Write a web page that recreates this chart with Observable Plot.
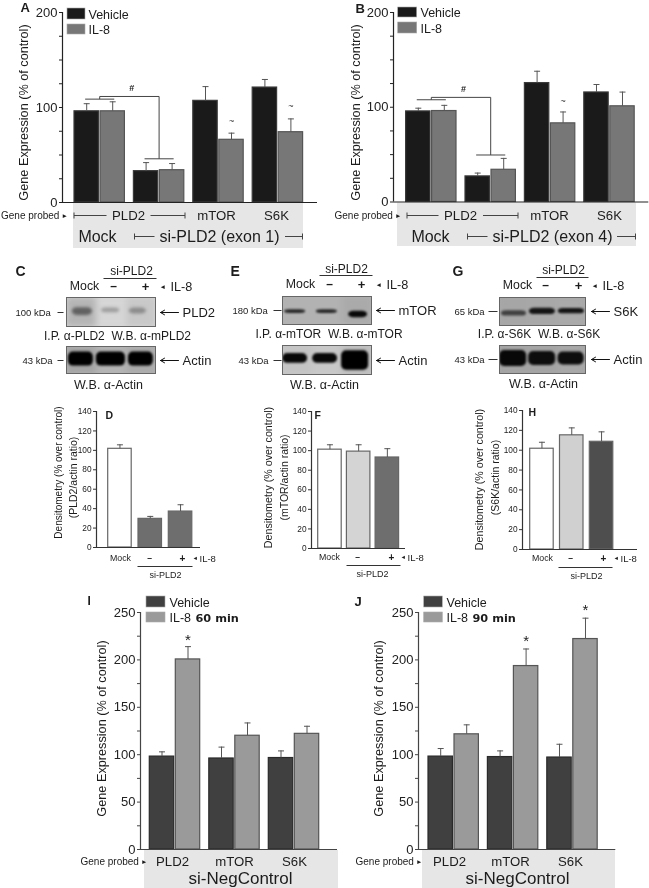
<!DOCTYPE html>
<html><head><meta charset="utf-8">
<script src="https://cdn.jsdelivr.net/npm/d3@7"></script>
<script src="https://cdn.jsdelivr.net/npm/@observablehq/plot@0.6"></script>
<style>
html,body{margin:0;padding:0;background:#fff}
#fig{position:relative;width:649px;height:888px;overflow:hidden;background:#fff;filter:blur(0.35px)}
#fig svg{position:absolute;background:transparent;max-width:none}
</style></head><body><div id="fig"></div>
<script>
const FONT = "Liberation Sans, Arial, sans-serif";

// ---------- values ----------
const aVehicle = [96, 33, 107, 121];
const aVehicleTop = [104, 42, 122, 129.5];
const aIL8 = [96, 34, 66, 74];
const aIL8Top = [106, 41, 73, 88];

const bVehicle = [95.6, 27, 125.5, 115.6];
const bVehicleTop = [99, 30.5, 138, 124];
const bIL8 = [96, 34, 83, 101];
const bIL8Top = [102, 46, 95, 116];

const dValues = [101.6, 29.5, 37];
const dTops = [105.7, 32, 44];
const fValues = [101, 99, 93];
const fTops = [106, 106, 102];
const hValues = [101.5, 115, 108.5];
const hTops = [108, 122.5, 118.5];

const iVehicle = [98, 96, 96.5];
const iVehicleTop = [103, 108, 104];
const iIL8 = [200.5, 120, 122];
const iIL8Top = [214, 133.5, 130];

const jVehicle = [98, 97.5, 97];
const jVehicleTop = [106.5, 104, 111];
const jIL8 = [121.5, 193.5, 222];
const jIL8Top = [131.5, 211.5, 244];

// blot bands per lane: darkness (1 = black), centre and width in lanes, mid-height and thickness on a 0-1 scale
const cBlot = {dark: [0.62, 0.38, 0.45], at: [0.53, 1.47, 2.38], wide: [0.67, 0.6, 0.57], mid: [0.47, 0.43, 0.45], thick: [0.26, 0.16, 0.2], lanes: ["#b4b4b4", "#d6d6d6", "#c8c8c8"]};
const cActin = {dark: [1, 1, 1], at: [0.48, 1.48, 2.48], wide: [0.83, 0.97, 0.83], mid: [0.45, 0.45, 0.45], thick: [0.5, 0.5, 0.5], lanes: ["#a4a4a4", "#b4b4b4", "#ababab"]};
const eBlot = {dark: [0.85, 0.85, 0.97], at: [0.42, 1.48, 2.52], wide: [0.7, 0.7, 0.63], mid: [0.52, 0.52, 0.62], thick: [0.13, 0.13, 0.22], lanes: ["#b2b2b2", "#b2b2b2", "#aaaaaa"]};
const eActin = {dark: [0.97, 0.97, 1], at: [0.42, 1.42, 2.42], wide: [0.83, 0.83, 0.9], mid: [0.43, 0.43, 0.5], thick: [0.33, 0.33, 0.65], lanes: ["#c4c4c4", "#c8c8c8", "#bbbbbb"]};
const gBlot = {dark: [0.75, 0.92, 0.92], at: [0.5, 1.48, 2.48], wide: [0.86, 0.9, 0.9], mid: [0.55, 0.48, 0.47], thick: [0.18, 0.22, 0.18], lanes: ["#a6a6a6", "#a8a8a8", "#aaaaaa"]};
const gActin = {dark: [0.97, 0.95, 0.95], at: [0.47, 1.47, 2.47], wide: [0.93, 0.93, 0.9], mid: [0.45, 0.45, 0.45], thick: [0.55, 0.48, 0.45], lanes: ["#a4a4a4", "#a4a4a4", "#a8a8a8"]};

// ---------- helpers ----------
const fig = document.getElementById("fig");
function place(svg, left, top) { svg.style.left = left + "px"; svg.style.top = top + "px"; fig.appendChild(svg); }

function pair(first, second, firstTop, secondTop, n) {
  return d3.range(n).flatMap(g => [
    {g, s: 0, value: first[g], top: firstTop[g]},
    {g, s: 1, value: second[g], top: secondTop[g]}
  ]);
}
function single(values, tops) {
  return values.map((value, g) => ({g, s: 0, value, top: tops[g]}));
}

// page = pixel geometry of the axes; first/period/step/barW place bars along the x scale
function barPanel({page, yMax, tickStep, labelStep, first, period, step, barW, rows, fills, strokes, axisColor,
                   tickFont, tickSize, capPx, extras}) {
  const [xa, yTop, xEnd, yBot] = page;
  const pad = {l: 42, r: 2, t: 12, b: 3};
  const toG = px => (px - first) / period;
  const wG = barW / period, stepG = step / period, capG = capPx / period;
  const cx = d => d.g + d.s * stepG + wG / 2;
  const marks = [
    Plot.rectY(rows, {
      x1: d => d.g + d.s * stepG, x2: d => d.g + d.s * stepG + wG,
      y1: 0, y2: "value", fill: d => fills[d.s === 1 ? 1 : 0][d.g] , stroke: d => strokes[d.s === 1 ? 1 : 0][d.g], strokeWidth: 1.2
    }),
    Plot.ruleX(rows, {x: cx, y1: "value", y2: "top", stroke: "#555", strokeWidth: 1}),
    Plot.link(rows, {x1: d => cx(d) - capG, x2: d => cx(d) + capG, y1: "top", y2: "top", stroke: "#555", strokeWidth: 1}),
    Plot.ruleX([toG(xa)], {y1: 0, y2: yMax, stroke: axisColor, strokeWidth: 1.2}),
    Plot.ruleY([0], {x1: toG(xa), x2: toG(xEnd), stroke: axisColor, strokeWidth: 1.2}),
    Plot.axisY(d3.range(0, yMax + 1, tickStep), {
      anchor: "left", tickSize, tickPadding: 2, fontSize: tickFont, color: "#222", stroke: axisColor, label: null,
      tickFormat: d => d % labelStep === 0 ? String(d) : ""
    })
  ];
  const svg = Plot.plot({
    width: xEnd - xa + pad.l + pad.r, height: yBot - yTop + pad.t + pad.b,
    marginLeft: pad.l, marginRight: pad.r, marginTop: pad.t, marginBottom: pad.b,
    x: {type: "linear", domain: [toG(xa), toG(xEnd)], axis: null},
    y: {type: "linear", domain: [0, yMax], axis: null},
    color: {type: "identity"},
    style: {fontFamily: FONT, background: "transparent", overflow: "visible"},
    marks: marks.concat(extras ? extras({wG, stepG, capG, toG}) : [])
  });
  place(svg, xa - pad.l, yTop - pad.t);
}

function bracket(wG, stepG, yHigh, yShort, yLow, halfG, color, sign, signY) {
  const c0 = (stepG + wG) / 2, c1 = 1 + c0;
  const segs = [
    {a: c0, b: c1, y1: yHigh, y2: yHigh},
    {a: c1, b: c1, y1: yHigh, y2: yLow},
    {a: c0, b: c0, y1: yHigh, y2: yShort},
    {a: c0 - halfG, b: c0 + halfG, y1: yShort, y2: yShort},
    {a: c1 - halfG, b: c1 + halfG, y1: yLow, y2: yLow}
  ];
  return [
    Plot.link(segs, {x1: "a", x2: "b", y1: "y1", y2: "y2", stroke: color, strokeWidth: 1}),
    Plot.text([sign], {x: (c0 + c1) / 2 + 0.04, y: signY, text: d => d, fontSize: 9, fill: "#222", fontWeight: "bold"})
  ];
}

function blot(box, spec, edge, blur) {
  const [x0, y0, x1, y1] = box;
  const rows = spec.dark.map((d, i) => ({i, d, c: spec.at[i], w: spec.wide[i], m: spec.mid[i], t: spec.thick[i]}));
  const grey = v => { const c = Math.round(255 * (1 - v)); return `rgb(${c},${c},${c})`; };
  const svg = Plot.plot({
    width: x1 - x0, height: y1 - y0, margin: 0,
    x: {type: "linear", domain: [0, 3], axis: null},
    y: {type: "linear", domain: [1, 0], axis: null},
    color: {type: "identity"},
    style: {background: "transparent"},
    marks: [
      Plot.rect([spec.lanes[1]], {x1: 0, x2: 3, y1: 0, y2: 1, fill: d => d}),
      Plot.rect(spec.lanes, {x1: (d, i) => i, x2: (d, i) => i + 1, y1: 0, y2: 1, fill: d => d, imageFilter: "blur(3px)", clip: "frame"}),
      Plot.rect(rows, {
        x1: d => d.c - d.w / 2, x2: d => d.c + d.w / 2,
        y1: d => d.m - d.t / 2, y2: d => d.m + d.t / 2,
        fill: d => grey(d.d), rx: 5, imageFilter: `blur(${blur}px)`, clip: "frame"
      }),
      Plot.rect([0], {x1: 0, x2: 3, y1: 0, y2: 1, fill: "none", stroke: edge, strokeWidth: 2})
    ]
  });
  place(svg, x0, y0);
}

// ---------- backdrop: grey strips under the charts ----------
const strips = [
  {x1: 73, x2: 303, y1: 203, y2: 248},
  {x1: 397, x2: 636, y1: 202.5, y2: 246},
  {x1: 144, x2: 338, y1: 850, y2: 888},
  {x1: 422, x2: 615, y1: 850, y2: 888}
];
const pageScale = {
  width: 649, height: 888, margin: 0,
  x: {type: "linear", domain: [0, 649], range: [0, 649], axis: null},
  y: {type: "linear", domain: [0, 888], range: [0, 888], axis: null},
  style: {background: "transparent", fontFamily: FONT}
};
place(Plot.plot({...pageScale, marks: [Plot.rect(strips, {x1: "x1", x2: "x2", y1: "y1", y2: "y2", fill: "#e6e6e6"})]}), 0, 0);

// ---------- bar charts ----------
const k = "#1a1a1a", g = "#777777", kEdge = "#3a3a3a", gEdge = "#555555";
const same = (c, n) => Array(n).fill(c);

barPanel({page: [62, 12, 317, 202], yMax: 200, tickStep: 25, labelStep: 100, first: 74, period: 59.4, step: 26, barW: 24.4,
  rows: pair(aVehicle, aIL8, aVehicleTop, aIL8Top, 4), fills: [same(k, 4), same(g, 4)], strokes: [same(kEdge, 4), same(gEdge, 4)],
  axisColor: "#222", tickFont: 13, tickSize: 3, capPx: 3,
  extras: ({wG, stepG}) => [
    ...bracket(wG, stepG, 111.6, 108.8, 46, 0.245, "#444", "#", 120.7),
    Plot.text([{v: 2, y: 85.6}, {v: 3, y: 101.8}], {x: d => d.v + stepG + wG / 2, y: "y", text: () => "~", fontSize: 9, fill: "#333"})
  ]});

barPanel({page: [392.7, 12, 648, 201.5], yMax: 200, tickStep: 25, labelStep: 100, first: 405.3, period: 59.4, step: 26, barW: 24.4,
  rows: pair(bVehicle, bIL8, bVehicleTop, bIL8Top, 4), fills: [same(k, 4), same(g, 4)], strokes: [same(kEdge, 4), same(gEdge, 4)],
  axisColor: "#222", tickFont: 13, tickSize: 3, capPx: 3,
  extras: ({wG, stepG}) => [
    ...bracket(wG, stepG, 110.4, 107.9, 49.6, 0.245, "#444", "#", 119),
    Plot.text([{v: 2, y: 106}], {x: d => d.v + stepG + wG / 2, y: "y", text: () => "~", fontSize: 9, fill: "#333"})
  ]});

const smallPanel = (page, first, period, vals, tops, fillSet) => barPanel({
  page, yMax: 140, tickStep: 20, labelStep: 20, first, period, step: 0, barW: 23.5,
  rows: single(vals, tops), fills: [fillSet, fillSet], strokes: [same("#666", 3), same("#666", 3)],
  axisColor: "#333", tickFont: 8.3, tickSize: 3, capPx: 3});

smallPanel([96, 411, 200, 547], 107.7, 30.3, dValues, dTops, ["#ffffff", "#6e6e6e", "#6e6e6e"]);
smallPanel([311, 411, 405, 548], 317.7, 28.7, fValues, fTops, ["#ffffff", "#d4d4d4", "#6e6e6e"]);
smallPanel([522, 410, 637, 549], 529.7, 29.8, hValues, hTops, ["#ffffff", "#d0d0d0", "#4e4e4e"]);

const dk = "#404040", lt = "#9a9a9a";
barPanel({page: [140, 612, 337, 849], yMax: 250, tickStep: 25, labelStep: 50, first: 149.3, period: 59.5, step: 26, barW: 24.4,
  rows: pair(iVehicle, iIL8, iVehicleTop, iIL8Top, 3), fills: [same(dk, 3), same(lt, 3)], strokes: [same("#2a2a2a", 3), same("#555", 3)],
  axisColor: "#444", tickFont: 13, tickSize: 3, capPx: 3,
  extras: ({wG, stepG}) => [Plot.text([{v: 0, y: 221}], {x: d => d.v + stepG + wG / 2, y: "y", text: () => "*", fontSize: 15, fill: "#222"})]});

barPanel({page: [417.7, 612, 615, 849], yMax: 250, tickStep: 25, labelStep: 50, first: 427.7, period: 59.4, step: 26, barW: 24.4,
  rows: pair(jVehicle, jIL8, jVehicleTop, jIL8Top, 3), fills: [same(dk, 3), same(lt, 3)], strokes: [same("#2a2a2a", 3), same("#555", 3)],
  axisColor: "#444", tickFont: 13, tickSize: 3, capPx: 3,
  extras: ({wG, stepG}) => [Plot.text([{v: 1, y: 220}, {v: 2, y: 252}], {x: d => d.v + stepG + wG / 2, y: "y", text: () => "*", fontSize: 15, fill: "#222"})]});

// ---------- western blots ----------
blot([66, 297, 156, 327], cBlot, "#666", 1.6);
blot([66, 346, 156, 374], cActin, "#666", 1.3);
blot([282, 296, 372, 325], eBlot, "#666", 0.9);
blot([282, 345, 372, 375], eActin, "#666", 1.3);
blot([499, 297, 586, 326], gBlot, "#666", 1);
blot([499, 345, 586, 374], gActin, "#666", 1.3);

// ---------- labels, legends and arrows on the page ----------
const T = [];
const t = (x, y, text, size, o = {}) => T.push({x, y, text, size, anchor: o.a || "start", weight: o.w || "normal", rotate: o.r || 0, family: o.f || FONT, fill: o.c || "#1c1c1c"});
const L = [];   // thin lines
const line = (x1, y1, x2, y2, c = "#444", w = 1) => L.push({x1, y1, x2, y2, c, w});
const S = [];   // legend swatches
const A = [];   // arrows
const arrow = (x1, x2, y) => A.push({x1, x2, y});

// panel letters
[["A",20,7,13],["B",355,8,13],["C",15,271,14],["E",230,271,14],["G",452,271,14],["D",105,415,10.5],["F",314,415,10.5],["H",528,412,10.5],["I",87,601,12],["J",354,601,13]]
  .forEach(([s,x,y,z]) => t(x, y, s, z, {w: "bold"}));

// y titles
const yt = "Gene Expression (% of control)";
t(23, 112, yt, 12.7, {a: "middle", r: -90});
t(355, 112, yt, 12.7, {a: "middle", r: -90});
t(101, 728, yt, 12.7, {a: "middle", r: -90});
t(378, 728, yt, 12.7, {a: "middle", r: -90});
const dt = "Densitometry (% over control)";
t(58, 472, dt, 10, {a: "middle", r: -90}); t(73, 477, "(PLD2/actin ratio)", 10.5, {a: "middle", r: -90});
t(268, 477, dt, 10.7, {a: "middle", r: -90}); t(284, 477, "(mTOR/actin ratio)", 10.5, {a: "middle", r: -90});
t(479, 479, dt, 10.7, {a: "middle", r: -90}); t(495, 477, "(S6K/actin ratio)", 10.5, {a: "middle", r: -90});

// legends
const legend = (xS, xEndS, y1a, y1b, y2a, y2b, c1, c2, xT, yT1, yT2, size, extra) => {
  S.push({x1: xS, x2: xEndS, y1: y1a, y2: y1b, fill: c1}, {x1: xS, x2: xEndS, y1: y2a, y2: y2b, fill: c2});
  t(xT, yT1, "Vehicle", size); t(xT, yT2, "IL-8", size);
  if (extra) t(extra[0], yT2, extra[1], 11.3, {w: "bold", f: "DejaVu Sans"});
};
legend(67, 85, 8, 19, 24, 34, k, g, 88, 14, 29, 12.5);
legend(397.7, 416.7, 7, 17, 22, 33, k, g, 420, 12, 28, 12.5);
legend(146, 165, 596, 607, 612, 622, dk, lt, 169, 602, 617.5, 12.5, [195, "60 min"]);
legend(423.7, 442.3, 596, 607, 612, 622, dk, lt, 446, 602, 617.5, 12.5, [472, "90 min"]);

// strips under A and B
const stripLabels = (gp, pld, l1a, l1b, l2a, l2b, m, s, mock, si, l3a, l3b, l4a, l4b, siText) => {
  t(gp, 215, "Gene probed", 10); t(gp + 60.5, 215, "►", 6.5);
  t(pld, 215, "PLD2", 13.2, {a: "middle"});
  t(m, 215, "mTOR", 13.2, {a: "middle"}); t(s, 215, "S6K", 13.2, {a: "middle"});
  t(mock, 236, "Mock", 16, {a: "middle"}); t(si, 236, siText, 16, {a: "middle"});
  line(l1a, 215, l1b, 215); line(l1a, 212, l1a, 218); line(l2a, 215, l2b, 215); line(l2b, 212, l2b, 218);
  line(l3a, 236, l3b, 236); line(l3a, 233, l3a, 239); line(l4a, 236, l4b, 236); line(l4b, 233, l4b, 239);
};
stripLabels(0.5, 128, 73.5, 106, 150, 184.5, 216, 276, 97, 219, 134, 154, 284.5, 302, "si-PLD2 (exon 1)");
stripLabels(334, 460, 406.5, 438, 482.5, 517.5, 549, 609, 430, 552, 467, 487, 616.5, 635, "si-PLD2 (exon 4)");

// strips under I and J
t(80, 861, "Gene probed", 10); t(140.5, 861, "►", 6.5);
t(172, 861, "PLD2", 13.2, {a: "middle"}); t(234, 861, "mTOR", 13.2, {a: "middle"}); t(294, 861, "S6K", 13.2, {a: "middle"});
t(240, 878, "si-NegControl", 17, {a: "middle"});
t(355, 861, "Gene probed", 10); t(415.5, 861, "►", 6.5);
t(449, 861, "PLD2", 13.2, {a: "middle"}); t(510, 861, "mTOR", 13.2, {a: "middle"}); t(570, 861, "S6K", 13.2, {a: "middle"});
t(517, 878, "si-NegControl", 17, {a: "middle"});

// heads of the blots
const head = (si, siY, la, lb, lY, mock, rowY, minus, plus, il) => {
  t(si, siY, "si-PLD2", 12, {a: "middle"}); line(la, lY, lb, lY, "#333");
  t(mock, rowY, "Mock", 12.3, {a: "middle"}); t(minus, rowY, "–", 12, {a: "middle", w: "bold"}); t(plus, rowY, "+", 13, {a: "middle", w: "bold"});
  t(il, rowY, "◄", 6.5); t(il + 11, rowY, "IL-8", 12.7);
};
head(131, 271, 103, 156, 278, 84, 286, 113, 145, 159);
head(346, 269, 319, 372, 275, 300, 284, 329, 361, 375);
head(563, 270, 536, 588, 277, 517, 285, 545, 578, 591);

const blotSide = (kda, kx, dash, y, ax, name, nameX, ipText, ipX, ipY, wbX, wbY, k43x, y2, d2) => {
  t(kx, y, kda, 9.5); line(dash[0], y, dash[1], y, "#333");
  arrow(ax + 18, ax, y); t(nameX, y, name, 13);
  t(ipX, ipY, ipText, 12, {a: "middle"});
  t(k43x, y2, "43 kDa", 9.5); line(d2[0], y2, d2[1], y2, "#333");
  arrow(ax + 18, ax, y2); t(nameX, y2, "Actin", 13);
  t(wbX, wbY, "W.B. α-Actin", 12.5, {a: "middle"});
};
blotSide("100 kDa", 15, [57, 63], 312, 160, "PLD2", 182, "I.P. α-PLD2  W.B. α-mPLD2", 117, 336, 108, 384, 22, 360, [57, 63]);
blotSide("180 kDa", 232, [273, 281], 310, 376, "mTOR", 398, "I.P. α-mTOR  W.B. α-mTOR", 328.5, 334, 324, 384, 238, 360, [273, 281]);
blotSide("65 kDa", 454, [488, 497], 311, 591, "S6K", 613, "I.P. α-S6K  W.B. α-S6K", 538.5, 334, 543, 383, 454, 359, [488, 497]);

// feet of the densitometry charts
const foot = (mock, y, minus, plus, il, la, lb, lY, si, siY) => {
  t(mock, y, "Mock", 8.8, {a: "middle"}); t(minus, y, "–", 8.5, {a: "middle", w: "bold"}); t(plus, y, "+", 10, {a: "middle", w: "bold"});
  t(il, y, "◄", 5.5); t(il + 7, y, "IL-8", 9.5);
  line(la, lY, lb, lY, "#333"); t(si, siY, "si-PLD2", 9, {a: "middle"});
};
foot(120, 558, 149, 182, 192, 137, 192, 566, 165, 575);
foot(329, 557, 357, 391, 400, 346, 400, 565, 372, 574);
foot(542, 558, 570, 603, 613, 558, 612, 567, 586, 576);

const textMarks = [];
d3.groups(T, d => d.anchor, d => d.weight, d => d.family).forEach(([anchor, ws]) => ws.forEach(([weight, fs]) => fs.forEach(([family, rows]) => {
  textMarks.push(Plot.text(rows, {x: "x", y: "y", text: "text", fontSize: "size", rotate: "rotate", fill: "fill", textAnchor: anchor, fontWeight: weight, fontFamily: family}));
})));

place(Plot.plot({...pageScale, color: {type: "identity"}, marks: [
  Plot.rect(S, {x1: "x1", x2: "x2", y1: "y1", y2: "y2", fill: "fill", stroke: "#aaa", strokeWidth: 0.6}),
  Plot.link(L, {x1: "x1", x2: "x2", y1: "y1", y2: "y2", stroke: "c", strokeWidth: "w"}),
  Plot.arrow(A, {x1: "x1", x2: "x2", y1: "y", y2: "y", bend: 0, stroke: "#111", strokeWidth: 1, headLength: 7}),
  ...textMarks
]}), 0, 0);
</script></body></html>
